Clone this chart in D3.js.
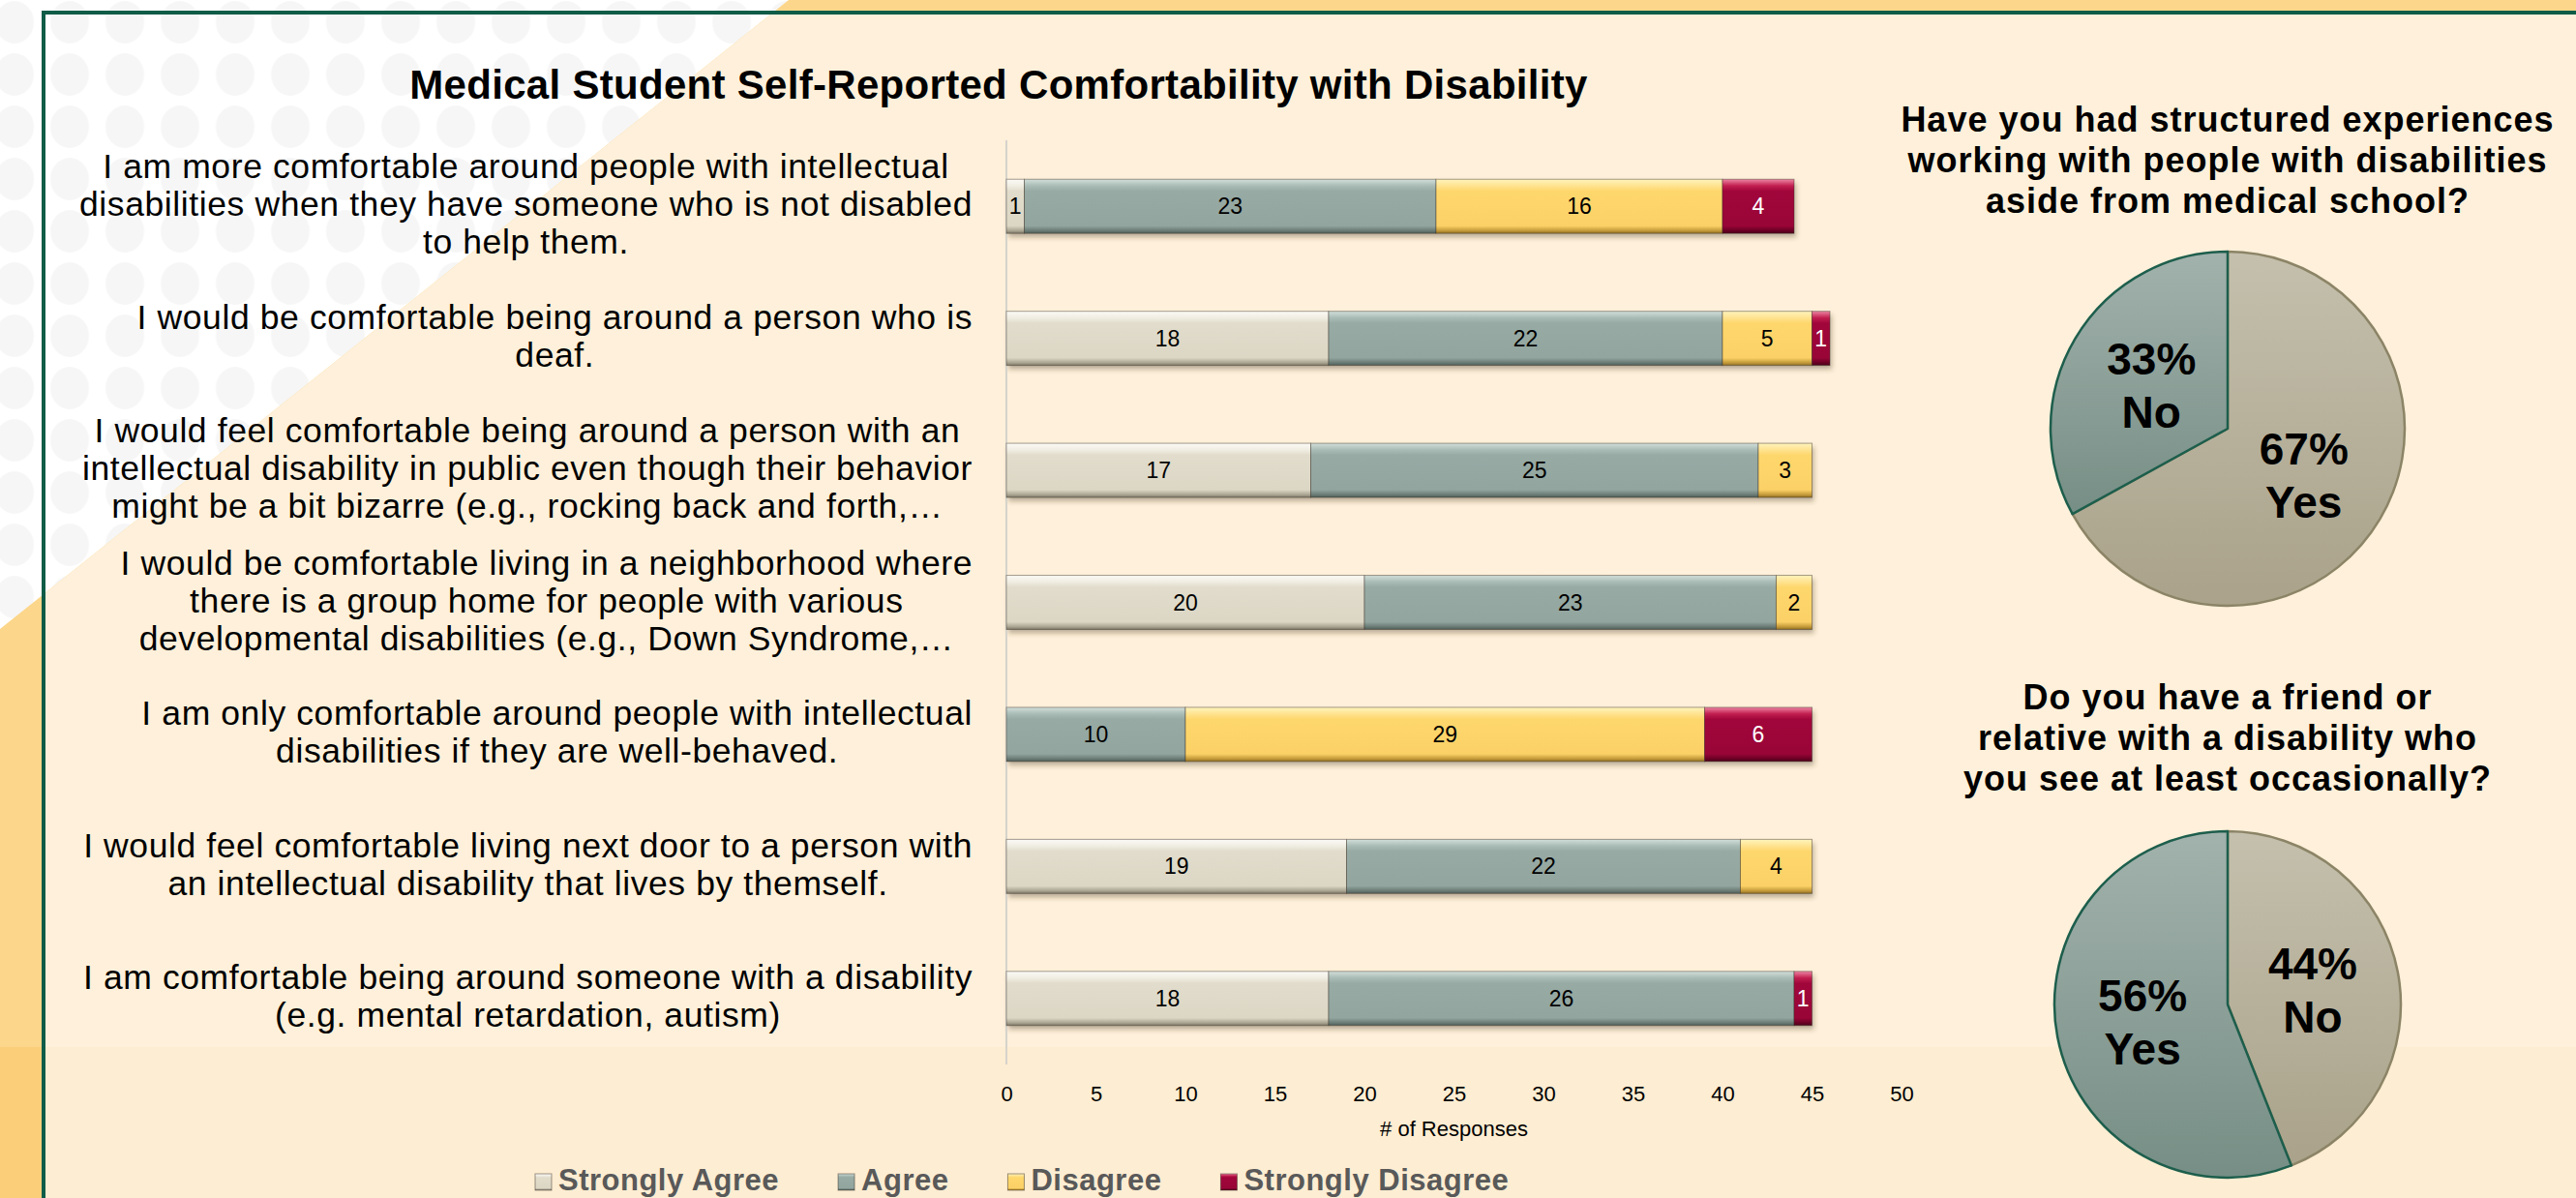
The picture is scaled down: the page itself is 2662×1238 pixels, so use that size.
<!DOCTYPE html>
<html>
<head>
<meta charset="utf-8">
<script src="https://cdn.jsdelivr.net/npm/d3@7"></script>
<style>
  body { margin: 0; background: #fff; }
  svg { display: block; font-family: "Liberation Sans", Arial, sans-serif; }
</style>
</head>
<body>
<div class="canvas"></div>
<script>
// ---- data ----
const chartTitle = 'Medical Student Self-Reported Comfortability with Disability';
const statements = [
  ['I am more comfortable around people with intellectual', 'disabilities when they have someone who is not disabled', 'to help them.'],
  ['I would be comfortable being around a person who is', 'deaf.'],
  ['I would feel comfortable being around a person with an', 'intellectual disability in public even though their behavior', 'might be a bit bizarre (e.g., rocking back and forth,\u2026'],
  ['I would be comfortable living in a neighborhood where', 'there is a group home for people with various', 'developmental disabilities (e.g., Down Syndrome,\u2026'],
  ['I am only comfortable around people with intellectual', 'disabilities if they are well-behaved.'],
  ['I would feel comfortable living next door to a person with', 'an intellectual disability that lives by themself.'],
  ['I am comfortable being around someone with a disability', '(e.g. mental retardation, autism)']
];
const responseLevels = ['Strongly Agree', 'Agree', 'Disagree', 'Strongly Disagree'];
const stronglyAgree    = [1, 18, 17, 20, 0, 19, 18];
const agree            = [23, 22, 25, 23, 10, 22, 26];
const disagree         = [16, 5, 3, 2, 29, 4, 0];
const stronglyDisagree = [4, 1, 0, 0, 6, 0, 1];
const xTicks = [0, 5, 10, 15, 20, 25, 30, 35, 40, 45, 50];
const xAxisTitle = '# of Responses';

const pie1Title = ['Have you had structured experiences', 'working with people with disabilities', 'aside from medical school?'];
const pie1Labels = ['Yes', 'No'];
const pie1Values = [67, 33];

const pie2Title = ['Do you have a friend or', 'relative with a disability who', 'you see at least occasionally?'];
const pie2Labels = ['No', 'Yes'];
const pie2Values = [44, 56];

// ---- setup ----
const W = 2662, H = 1238;
const svg = d3.select('.canvas').append('svg').attr('width', W).attr('height', H);
const defs = svg.append('defs');

// background: white with faint dots, golden outside, cream inside the frame
const dots = defs.append('pattern')
  .attr('id', 'dots').attr('patternUnits', 'userSpaceOnUse')
  .attr('x', -13.5).attr('y', -4).attr('width', 57).attr('height', 54);
dots.append('ellipse').attr('cx', 28.5).attr('cy', 27).attr('rx', 20).attr('ry', 22).attr('fill', '#f6f6f6');

svg.append('rect').attr('width', W).attr('height', H).attr('fill', '#fff');
svg.append('rect').attr('width', W).attr('height', H).attr('fill', 'url(#dots)');

// diagonal from (815,0) to (0,650)
const diagX = y => 815 - y * 815 / 650;
const diagY = x => 650 - x * 650 / 815;
svg.append('polygon')
  .attr('points', [[815, 0], [W, 0], [W, H], [0, H], [0, 650]].join(' '))
  .attr('fill', '#fcd68a');
svg.append('rect').attr('x', 0).attr('y', 1082).attr('width', 45).attr('height', H - 1082).attr('fill', '#fbcf7a');

svg.append('polygon')
  .attr('points', [[diagX(15), 15], [W, 15], [W, H], [47, H], [47, diagY(47)]].join(' '))
  .attr('fill', '#fef0da');
svg.append('rect').attr('x', 47).attr('y', 1082).attr('width', W).attr('height', H - 1082).attr('fill', '#fdedd2');

svg.append('rect')
  .attr('x', 45).attr('y', 13).attr('width', W).attr('height', H + 50)
  .attr('fill', 'none').attr('stroke', '#0f5c47').attr('stroke-width', 4);

// ---- bar chart ----
const rows = statements.map((s, i) => ({
  idx: i,
  'Strongly Agree': stronglyAgree[i],
  'Agree': agree[i],
  'Disagree': disagree[i],
  'Strongly Disagree': stronglyDisagree[i]
}));
const stacked = d3.stack().keys(responseLevels)(rows);

const x = d3.scaleLinear().domain([0, 50]).range([1040, 1965]);
const y = d3.scaleBand().domain(d3.range(statements.length))
  .range([145, 1100]).paddingInner(0.59).paddingOuter(0.295);

const barStops = {
  'Strongly Agree':    ['#fbfaf5', '#f0ede3', '#e1dccb', '#dcd7c5', '#aaa492', '#7d7868'],
  'Agree':             ['#d2dfda', '#aabcb6', '#97aaa4', '#92a59e', '#6a7b75', '#4f5d58'],
  'Disagree':          ['#fff4bd', '#ffe390', '#fed76c', '#fbd167', '#c49a3a', '#8f6e22'],
  'Strongly Disagree': ['#ee86a4', '#c21f50', '#a1063b', '#990537', '#6a0024', '#4a0018']
};
const stopAt = [0, 0.12, 0.22, 0.86, 0.95, 1];
responseLevels.forEach((k, i) => {
  const g = defs.append('linearGradient').attr('id', 'bar' + i)
    .attr('x1', 0).attr('y1', 0).attr('x2', 0).attr('y2', 1);
  barStops[k].forEach((c, j) => g.append('stop').attr('offset', stopAt[j]).attr('stop-color', c));
});

const blur = defs.append('filter').attr('id', 'shadow').attr('x', '-5%').attr('y', '-50%').attr('width', '110%').attr('height', '200%');
blur.append('feGaussianBlur').attr('stdDeviation', 2.5);

// shadows under each bar
svg.append('g').selectAll('rect').data(rows).join('rect')
  .attr('x', x(0) + 2)
  .attr('y', d => y(d.idx) + 4)
  .attr('width', d => x(d3.sum(responseLevels, k => d[k])) - x(0))
  .attr('height', y.bandwidth())
  .attr('fill', 'rgba(70,55,30,0.35)')
  .attr('filter', 'url(#shadow)');

// axis line
svg.append('line')
  .attr('x1', x(0)).attr('x2', x(0)).attr('y1', 145).attr('y2', 1100)
  .attr('stroke', '#d6d3cc').attr('stroke-width', 2);

const series = svg.append('g').selectAll('g').data(stacked).join('g')
  .attr('fill', (d, i) => `url(#bar${i})`);

series.selectAll('rect').data(d => d.filter(p => p[1] > p[0])).join('rect')
  .attr('x', p => x(p[0]))
  .attr('y', p => y(p.data.idx))
  .attr('width', p => x(p[1]) - x(p[0]))
  .attr('height', y.bandwidth())
  .attr('stroke', 'rgba(60,50,40,0.45)')
  .attr('stroke-width', 1);

series.selectAll('text').data(d => d.filter(p => p[1] > p[0]).map(p => Object.assign(p, {key: d.key}))).join('text')
  .attr('x', p => (x(p[0]) + x(p[1])) / 2)
  .attr('y', p => y(p.data.idx) + y.bandwidth() / 2 + 8)
  .attr('text-anchor', 'middle')
  .attr('font-size', 23)
  .attr('fill', p => p.key === 'Strongly Disagree' ? '#fff' : '#000')
  .text(p => p[1] - p[0]);

// x axis
const xAxis = svg.append('g')
  .attr('transform', 'translate(0,1100)')
  .call(d3.axisBottom(x).tickValues(xTicks).tickSize(0).tickPadding(22));
xAxis.select('.domain').remove();
xAxis.selectAll('text').attr('font-size', 22).attr('font-family', '"Liberation Sans", Arial, sans-serif').attr('fill', '#000');

svg.append('text')
  .attr('x', (x(0) + x(50)) / 2).attr('y', 1174)
  .attr('text-anchor', 'middle').attr('font-size', 22)
  .text(xAxisTitle);

// category labels: block right-aligned to the axis, lines centred within block
const labelRight = 1005, lineGap = 39;
const labelG = svg.append('g').attr('font-size', 35.5).attr('letter-spacing', 0.6);
statements.forEach((lines, i) => {
  const texts = lines.map(l => labelG.append('text').attr('text-anchor', 'middle').text(l));
  const maxW = d3.max(texts, t => t.node().getComputedTextLength());
  const cy = y(i) + y.bandwidth() / 2 - 2;
  texts.forEach((t, j) => {
    t.attr('x', labelRight - maxW / 2)
     .attr('y', cy + (j - (lines.length - 1) / 2) * lineGap + 12);
  });
});

// chart title
svg.append('text')
  .attr('x', 1032).attr('y', 102)
  .attr('text-anchor', 'middle').attr('font-size', 42).attr('font-weight', 'bold')
  .attr('letter-spacing', 0.3)
  .text(chartTitle);

// legend
const legend = svg.append('g').attr('font-size', 31).attr('font-weight', 'bold')
  .attr('letter-spacing', 0.5).attr('fill', '#595959');
let lx = 553;
responseLevels.forEach((k, i) => {
  legend.append('rect')
    .attr('x', lx).attr('y', 1213).attr('width', 17).attr('height', 17)
    .attr('fill', `url(#bar${i})`).attr('stroke', 'rgba(60,50,40,0.5)');
  const t = legend.append('text').attr('x', lx + 24).attr('y', 1230).text(k);
  lx += 24 + t.node().getComputedTextLength() + 61;
});

// ---- pies ----
const tanGrad = defs.append('linearGradient').attr('id', 'tan').attr('x1', 0).attr('y1', 0).attr('x2', 0).attr('y2', 1);
tanGrad.append('stop').attr('offset', 0).attr('stop-color', '#c4c0ad');
tanGrad.append('stop').attr('offset', 1).attr('stop-color', '#aaa28a');
const greenGrad = defs.append('linearGradient').attr('id', 'green').attr('x1', 0).attr('y1', 0).attr('x2', 0).attr('y2', 1);
greenGrad.append('stop').attr('offset', 0).attr('stop-color', '#a2b2ac');
greenGrad.append('stop').attr('offset', 1).attr('stop-color', '#768e85');
const sliceFill = ['url(#tan)', 'url(#green)'];
const sliceStroke = ['#8c8466', '#1d5e4c'];

function drawPie(cx, cy, r, labels, values, title, titleBase) {
  const g = svg.append('g').attr('transform', `translate(${cx},${cy})`);
  const arcs = d3.pie().sort(null)(values);
  const arc = d3.arc().innerRadius(0).outerRadius(r);
  g.selectAll('path').data(arcs).join('path')
    .attr('d', arc)
    .attr('fill', (d, i) => sliceFill[i])
    .attr('stroke', (d, i) => sliceStroke[i])
    .attr('stroke-width', 2.5)
    .attr('stroke-linejoin', 'round');
  const lab = g.selectAll('g.lab').data(arcs).join('g').attr('class', 'lab')
    .attr('transform', d => `translate(${arc.centroid(d)})`)
    .attr('font-size', 46).attr('font-weight', 'bold').attr('text-anchor', 'middle');
  lab.append('text').attr('y', -9.5).text(d => d.value + '%');
  lab.append('text').attr('y', 45.5).text((d, i) => labels[i]);

  const tg = svg.append('g').attr('font-size', 36).attr('font-weight', 'bold')
    .attr('letter-spacing', 1).attr('text-anchor', 'middle');
  title.forEach((l, j) => tg.append('text').attr('x', cx).attr('y', titleBase + j * 42).text(l));
}

drawPie(2302, 443, 183, pie1Labels, pie1Values, pie1Title, 136);
drawPie(2302, 1038, 179, pie2Labels, pie2Values, pie2Title, 733);
</script>
</body>
</html>
